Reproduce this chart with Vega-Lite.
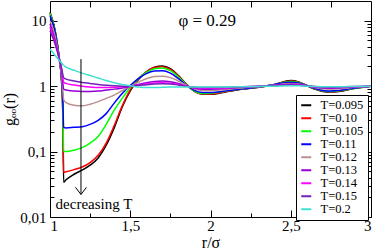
{
"$schema":"https://vega.github.io/schema/vega-lite/v6.json",
"width":321,"height":216,
"autosize":"none",
"padding":{"left":50,"top":1,"right":3,"bottom":34},
"config":{
 "view":{"stroke":"black","strokeWidth":1},
 "font":"Liberation Serif",
 "axis":{"labelFont":"Liberation Serif","labelFontSize":15,"labelColor":"black","tickColor":"black","tickWidth":1,"domain":false,"grid":false,"titleFont":"Liberation Serif","titleFontSize":16,"titleFontWeight":"normal","titleColor":"black"},
 "legend":{"labelFont":"Liberation Serif","rowPadding":0,"labelFontSize":12.5,"symbolSize":100},
 "text":{"font":"Liberation Serif"}
},
"resolve":{"axis":{"x":"independent","y":"independent"}},
"layer":[
{
"data":{"values":[
{"r":1.0,"T":"T=0.095","g":13.5},{"r":1.03,"T":"T=0.095","g":7.5},{"r":1.06,"T":"T=0.095","g":2.4},{"r":1.07,"T":"T=0.095","g":1.4},{"r":1.08,"T":"T=0.095","g":0.35},{"r":1.085,"T":"T=0.095","g":0.034},{"r":1.1,"T":"T=0.095","g":0.037},{"r":1.15,"T":"T=0.095","g":0.045},{"r":1.2,"T":"T=0.095","g":0.052},{"r":1.25,"T":"T=0.095","g":0.062},{"r":1.3,"T":"T=0.095","g":0.08},{"r":1.35,"T":"T=0.095","g":0.125},{"r":1.4,"T":"T=0.095","g":0.23},{"r":1.45,"T":"T=0.095","g":0.48},{"r":1.5,"T":"T=0.095","g":0.85},{"r":1.55,"T":"T=0.095","g":1.25},{"r":1.6,"T":"T=0.095","g":1.65},{"r":1.65,"T":"T=0.095","g":1.95},{"r":1.7,"T":"T=0.095","g":2.03},{"r":1.75,"T":"T=0.095","g":1.85},{"r":1.8,"T":"T=0.095","g":1.45},{"r":1.85,"T":"T=0.095","g":1.07},{"r":1.9,"T":"T=0.095","g":0.83},{"r":1.95,"T":"T=0.095","g":0.75},{"r":2.0,"T":"T=0.095","g":0.75},{"r":2.1,"T":"T=0.095","g":0.82},{"r":2.2,"T":"T=0.095","g":0.9},{"r":2.3,"T":"T=0.095","g":0.96},{"r":2.4,"T":"T=0.095","g":1.06},{"r":2.5,"T":"T=0.095","g":1.22},{"r":2.55,"T":"T=0.095","g":1.16},{"r":2.6,"T":"T=0.095","g":1.02},{"r":2.65,"T":"T=0.095","g":0.9},{"r":2.7,"T":"T=0.095","g":0.83},{"r":2.75,"T":"T=0.095","g":0.81},{"r":2.8,"T":"T=0.095","g":0.83},{"r":2.9,"T":"T=0.095","g":0.93},{"r":3.0,"T":"T=0.095","g":1.0},
{"r":1.0,"T":"T=0.10","g":13},{"r":1.03,"T":"T=0.10","g":7.3},{"r":1.06,"T":"T=0.10","g":2.4},{"r":1.07,"T":"T=0.10","g":1.45},{"r":1.08,"T":"T=0.10","g":0.4},{"r":1.085,"T":"T=0.10","g":0.048},{"r":1.1,"T":"T=0.10","g":0.049},{"r":1.15,"T":"T=0.10","g":0.053},{"r":1.2,"T":"T=0.10","g":0.058},{"r":1.25,"T":"T=0.10","g":0.068},{"r":1.3,"T":"T=0.10","g":0.088},{"r":1.35,"T":"T=0.10","g":0.135},{"r":1.4,"T":"T=0.10","g":0.25},{"r":1.45,"T":"T=0.10","g":0.5},{"r":1.5,"T":"T=0.10","g":0.88},{"r":1.55,"T":"T=0.10","g":1.28},{"r":1.6,"T":"T=0.10","g":1.65},{"r":1.65,"T":"T=0.10","g":1.93},{"r":1.7,"T":"T=0.10","g":1.98},{"r":1.75,"T":"T=0.10","g":1.8},{"r":1.8,"T":"T=0.10","g":1.42},{"r":1.85,"T":"T=0.10","g":1.06},{"r":1.9,"T":"T=0.10","g":0.83},{"r":1.95,"T":"T=0.10","g":0.76},{"r":2.0,"T":"T=0.10","g":0.76},{"r":2.1,"T":"T=0.10","g":0.83},{"r":2.2,"T":"T=0.10","g":0.9},{"r":2.3,"T":"T=0.10","g":0.96},{"r":2.4,"T":"T=0.10","g":1.06},{"r":2.5,"T":"T=0.10","g":1.2},{"r":2.55,"T":"T=0.10","g":1.15},{"r":2.6,"T":"T=0.10","g":1.02},{"r":2.65,"T":"T=0.10","g":0.9},{"r":2.7,"T":"T=0.10","g":0.84},{"r":2.75,"T":"T=0.10","g":0.82},{"r":2.8,"T":"T=0.10","g":0.84},{"r":2.9,"T":"T=0.10","g":0.93},{"r":3.0,"T":"T=0.10","g":1.0},
{"r":1.0,"T":"T=0.105","g":13},{"r":1.03,"T":"T=0.105","g":7.2},{"r":1.06,"T":"T=0.105","g":2.4},{"r":1.07,"T":"T=0.105","g":1.5},{"r":1.08,"T":"T=0.105","g":0.5},{"r":1.085,"T":"T=0.105","g":0.1},{"r":1.1,"T":"T=0.105","g":0.1},{"r":1.15,"T":"T=0.105","g":0.105},{"r":1.2,"T":"T=0.105","g":0.115},{"r":1.25,"T":"T=0.105","g":0.135},{"r":1.3,"T":"T=0.105","g":0.17},{"r":1.35,"T":"T=0.105","g":0.26},{"r":1.4,"T":"T=0.105","g":0.43},{"r":1.45,"T":"T=0.105","g":0.65},{"r":1.5,"T":"T=0.105","g":0.95},{"r":1.55,"T":"T=0.105","g":1.3},{"r":1.6,"T":"T=0.105","g":1.62},{"r":1.65,"T":"T=0.105","g":1.85},{"r":1.7,"T":"T=0.105","g":1.9},{"r":1.75,"T":"T=0.105","g":1.72},{"r":1.8,"T":"T=0.105","g":1.38},{"r":1.85,"T":"T=0.105","g":1.05},{"r":1.9,"T":"T=0.105","g":0.84},{"r":1.95,"T":"T=0.105","g":0.77},{"r":2.0,"T":"T=0.105","g":0.78},{"r":2.1,"T":"T=0.105","g":0.84},{"r":2.2,"T":"T=0.105","g":0.91},{"r":2.3,"T":"T=0.105","g":0.97},{"r":2.4,"T":"T=0.105","g":1.06},{"r":2.5,"T":"T=0.105","g":1.18},{"r":2.55,"T":"T=0.105","g":1.14},{"r":2.6,"T":"T=0.105","g":1.02},{"r":2.65,"T":"T=0.105","g":0.91},{"r":2.7,"T":"T=0.105","g":0.85},{"r":2.75,"T":"T=0.105","g":0.83},{"r":2.8,"T":"T=0.105","g":0.85},{"r":2.9,"T":"T=0.105","g":0.93},{"r":3.0,"T":"T=0.105","g":1.0},
{"r":1.0,"T":"T=0.11","g":12},{"r":1.03,"T":"T=0.11","g":7},{"r":1.06,"T":"T=0.11","g":2.4},{"r":1.07,"T":"T=0.11","g":1.5},{"r":1.08,"T":"T=0.11","g":0.6},{"r":1.085,"T":"T=0.11","g":0.235},{"r":1.1,"T":"T=0.11","g":0.23},{"r":1.15,"T":"T=0.11","g":0.235},{"r":1.2,"T":"T=0.11","g":0.24},{"r":1.25,"T":"T=0.11","g":0.26},{"r":1.3,"T":"T=0.11","g":0.3},{"r":1.35,"T":"T=0.11","g":0.38},{"r":1.4,"T":"T=0.11","g":0.55},{"r":1.45,"T":"T=0.11","g":0.77},{"r":1.5,"T":"T=0.11","g":1.02},{"r":1.55,"T":"T=0.11","g":1.3},{"r":1.6,"T":"T=0.11","g":1.55},{"r":1.65,"T":"T=0.11","g":1.7},{"r":1.7,"T":"T=0.11","g":1.72},{"r":1.75,"T":"T=0.11","g":1.58},{"r":1.8,"T":"T=0.11","g":1.3},{"r":1.85,"T":"T=0.11","g":1.04},{"r":1.9,"T":"T=0.11","g":0.86},{"r":1.95,"T":"T=0.11","g":0.8},{"r":2.0,"T":"T=0.11","g":0.8},{"r":2.1,"T":"T=0.11","g":0.85},{"r":2.2,"T":"T=0.11","g":0.91},{"r":2.3,"T":"T=0.11","g":0.97},{"r":2.4,"T":"T=0.11","g":1.06},{"r":2.5,"T":"T=0.11","g":1.15},{"r":2.55,"T":"T=0.11","g":1.12},{"r":2.6,"T":"T=0.11","g":1.02},{"r":2.65,"T":"T=0.11","g":0.92},{"r":2.7,"T":"T=0.11","g":0.86},{"r":2.75,"T":"T=0.11","g":0.84},{"r":2.8,"T":"T=0.11","g":0.86},{"r":2.9,"T":"T=0.11","g":0.94},{"r":3.0,"T":"T=0.11","g":1.0},
{"r":1.0,"T":"T=0.12","g":10},{"r":1.03,"T":"T=0.12","g":6},{"r":1.06,"T":"T=0.12","g":2.4},{"r":1.07,"T":"T=0.12","g":1.6},{"r":1.08,"T":"T=0.12","g":0.85},{"r":1.085,"T":"T=0.12","g":0.62},{"r":1.1,"T":"T=0.12","g":0.56},{"r":1.15,"T":"T=0.12","g":0.51},{"r":1.2,"T":"T=0.12","g":0.5},{"r":1.25,"T":"T=0.12","g":0.53},{"r":1.3,"T":"T=0.12","g":0.58},{"r":1.35,"T":"T=0.12","g":0.65},{"r":1.4,"T":"T=0.12","g":0.73},{"r":1.45,"T":"T=0.12","g":0.85},{"r":1.5,"T":"T=0.12","g":0.99},{"r":1.55,"T":"T=0.12","g":1.15},{"r":1.6,"T":"T=0.12","g":1.3},{"r":1.65,"T":"T=0.12","g":1.4},{"r":1.7,"T":"T=0.12","g":1.42},{"r":1.75,"T":"T=0.12","g":1.35},{"r":1.8,"T":"T=0.12","g":1.2},{"r":1.85,"T":"T=0.12","g":1.03},{"r":1.9,"T":"T=0.12","g":0.91},{"r":1.95,"T":"T=0.12","g":0.86},{"r":2.0,"T":"T=0.12","g":0.86},{"r":2.1,"T":"T=0.12","g":0.89},{"r":2.2,"T":"T=0.12","g":0.94},{"r":2.3,"T":"T=0.12","g":0.98},{"r":2.4,"T":"T=0.12","g":1.04},{"r":2.5,"T":"T=0.12","g":1.1},{"r":2.55,"T":"T=0.12","g":1.08},{"r":2.6,"T":"T=0.12","g":1.02},{"r":2.65,"T":"T=0.12","g":0.95},{"r":2.7,"T":"T=0.12","g":0.91},{"r":2.75,"T":"T=0.12","g":0.9},{"r":2.8,"T":"T=0.12","g":0.91},{"r":2.9,"T":"T=0.12","g":0.96},{"r":3.0,"T":"T=0.12","g":1.0},
{"r":1.0,"T":"T=0.13","g":9},{"r":1.03,"T":"T=0.13","g":5.2},{"r":1.06,"T":"T=0.13","g":2.5},{"r":1.07,"T":"T=0.13","g":1.9},{"r":1.08,"T":"T=0.13","g":1.1},{"r":1.085,"T":"T=0.13","g":0.9},{"r":1.1,"T":"T=0.13","g":0.87},{"r":1.15,"T":"T=0.13","g":0.84},{"r":1.2,"T":"T=0.13","g":0.83},{"r":1.25,"T":"T=0.13","g":0.83},{"r":1.3,"T":"T=0.13","g":0.84},{"r":1.35,"T":"T=0.13","g":0.87},{"r":1.4,"T":"T=0.13","g":0.9},{"r":1.45,"T":"T=0.13","g":0.94},{"r":1.5,"T":"T=0.13","g":0.99},{"r":1.55,"T":"T=0.13","g":1.06},{"r":1.6,"T":"T=0.13","g":1.13},{"r":1.65,"T":"T=0.13","g":1.18},{"r":1.7,"T":"T=0.13","g":1.2},{"r":1.75,"T":"T=0.13","g":1.17},{"r":1.8,"T":"T=0.13","g":1.1},{"r":1.85,"T":"T=0.13","g":1.0},{"r":1.9,"T":"T=0.13","g":0.93},{"r":1.95,"T":"T=0.13","g":0.9},{"r":2.0,"T":"T=0.13","g":0.9},{"r":2.1,"T":"T=0.13","g":0.92},{"r":2.2,"T":"T=0.13","g":0.96},{"r":2.3,"T":"T=0.13","g":0.99},{"r":2.4,"T":"T=0.13","g":1.03},{"r":2.5,"T":"T=0.13","g":1.07},{"r":2.55,"T":"T=0.13","g":1.06},{"r":2.6,"T":"T=0.13","g":1.02},{"r":2.65,"T":"T=0.13","g":0.97},{"r":2.7,"T":"T=0.13","g":0.94},{"r":2.75,"T":"T=0.13","g":0.93},{"r":2.8,"T":"T=0.13","g":0.94},{"r":2.9,"T":"T=0.13","g":0.97},{"r":3.0,"T":"T=0.13","g":1.0},
{"r":1.0,"T":"T=0.14","g":8},{"r":1.03,"T":"T=0.14","g":4.8},{"r":1.06,"T":"T=0.14","g":2.5},{"r":1.07,"T":"T=0.14","g":1.9},{"r":1.08,"T":"T=0.14","g":1.3},{"r":1.085,"T":"T=0.14","g":1.15},{"r":1.1,"T":"T=0.14","g":1.1},{"r":1.15,"T":"T=0.14","g":1.04},{"r":1.2,"T":"T=0.14","g":1.0},{"r":1.25,"T":"T=0.14","g":0.97},{"r":1.3,"T":"T=0.14","g":0.95},{"r":1.35,"T":"T=0.14","g":0.95},{"r":1.4,"T":"T=0.14","g":0.96},{"r":1.45,"T":"T=0.14","g":0.98},{"r":1.5,"T":"T=0.14","g":1.0},{"r":1.55,"T":"T=0.14","g":1.04},{"r":1.6,"T":"T=0.14","g":1.08},{"r":1.65,"T":"T=0.14","g":1.12},{"r":1.7,"T":"T=0.14","g":1.13},{"r":1.75,"T":"T=0.14","g":1.11},{"r":1.8,"T":"T=0.14","g":1.06},{"r":1.85,"T":"T=0.14","g":1.0},{"r":1.9,"T":"T=0.14","g":0.95},{"r":1.95,"T":"T=0.14","g":0.93},{"r":2.0,"T":"T=0.14","g":0.93},{"r":2.1,"T":"T=0.14","g":0.94},{"r":2.2,"T":"T=0.14","g":0.97},{"r":2.3,"T":"T=0.14","g":1.0},{"r":2.4,"T":"T=0.14","g":1.02},{"r":2.5,"T":"T=0.14","g":1.05},{"r":2.55,"T":"T=0.14","g":1.04},{"r":2.6,"T":"T=0.14","g":1.01},{"r":2.65,"T":"T=0.14","g":0.98},{"r":2.7,"T":"T=0.14","g":0.96},{"r":2.75,"T":"T=0.14","g":0.95},{"r":2.8,"T":"T=0.14","g":0.96},{"r":2.9,"T":"T=0.14","g":0.98},{"r":3.0,"T":"T=0.14","g":1.0},
{"r":1.0,"T":"T=0.15","g":7},{"r":1.03,"T":"T=0.15","g":4.5},{"r":1.06,"T":"T=0.15","g":2.5},{"r":1.07,"T":"T=0.15","g":2.0},{"r":1.08,"T":"T=0.15","g":1.5},{"r":1.085,"T":"T=0.15","g":1.35},{"r":1.1,"T":"T=0.15","g":1.28},{"r":1.15,"T":"T=0.15","g":1.2},{"r":1.2,"T":"T=0.15","g":1.14},{"r":1.25,"T":"T=0.15","g":1.1},{"r":1.3,"T":"T=0.15","g":1.06},{"r":1.35,"T":"T=0.15","g":1.03},{"r":1.4,"T":"T=0.15","g":1.01},{"r":1.45,"T":"T=0.15","g":1.0},{"r":1.5,"T":"T=0.15","g":1.0},{"r":1.55,"T":"T=0.15","g":1.02},{"r":1.6,"T":"T=0.15","g":1.05},{"r":1.65,"T":"T=0.15","g":1.08},{"r":1.7,"T":"T=0.15","g":1.09},{"r":1.75,"T":"T=0.15","g":1.08},{"r":1.8,"T":"T=0.15","g":1.04},{"r":1.85,"T":"T=0.15","g":1.0},{"r":1.9,"T":"T=0.15","g":0.97},{"r":1.95,"T":"T=0.15","g":0.95},{"r":2.0,"T":"T=0.15","g":0.95},{"r":2.1,"T":"T=0.15","g":0.96},{"r":2.2,"T":"T=0.15","g":0.98},{"r":2.3,"T":"T=0.15","g":1.0},{"r":2.4,"T":"T=0.15","g":1.02},{"r":2.5,"T":"T=0.15","g":1.04},{"r":2.55,"T":"T=0.15","g":1.03},{"r":2.6,"T":"T=0.15","g":1.01},{"r":2.65,"T":"T=0.15","g":0.99},{"r":2.7,"T":"T=0.15","g":0.97},{"r":2.75,"T":"T=0.15","g":0.96},{"r":2.8,"T":"T=0.15","g":0.97},{"r":2.9,"T":"T=0.15","g":0.99},{"r":3.0,"T":"T=0.15","g":1.0},
{"r":1.0,"T":"T=0.2","g":3.7},{"r":1.03,"T":"T=0.2","g":3.0},{"r":1.06,"T":"T=0.2","g":2.45},{"r":1.07,"T":"T=0.2","g":2.3},{"r":1.08,"T":"T=0.2","g":2.15},{"r":1.085,"T":"T=0.2","g":2.08},{"r":1.1,"T":"T=0.2","g":1.95},{"r":1.15,"T":"T=0.2","g":1.75},{"r":1.2,"T":"T=0.2","g":1.58},{"r":1.25,"T":"T=0.2","g":1.45},{"r":1.3,"T":"T=0.2","g":1.33},{"r":1.35,"T":"T=0.2","g":1.22},{"r":1.4,"T":"T=0.2","g":1.13},{"r":1.45,"T":"T=0.2","g":1.06},{"r":1.5,"T":"T=0.2","g":1.01},{"r":1.55,"T":"T=0.2","g":0.97},{"r":1.6,"T":"T=0.2","g":0.95},{"r":1.65,"T":"T=0.2","g":0.95},{"r":1.7,"T":"T=0.2","g":0.96},{"r":1.75,"T":"T=0.2","g":0.97},{"r":1.8,"T":"T=0.2","g":0.97},{"r":1.85,"T":"T=0.2","g":0.97},{"r":1.9,"T":"T=0.2","g":0.97},{"r":1.95,"T":"T=0.2","g":0.97},{"r":2.0,"T":"T=0.2","g":0.97},{"r":2.1,"T":"T=0.2","g":0.97},{"r":2.2,"T":"T=0.2","g":0.98},{"r":2.3,"T":"T=0.2","g":0.99},{"r":2.4,"T":"T=0.2","g":1.0},{"r":2.5,"T":"T=0.2","g":1.01},{"r":2.55,"T":"T=0.2","g":1.01},{"r":2.6,"T":"T=0.2","g":1.0},{"r":2.65,"T":"T=0.2","g":0.99},{"r":2.7,"T":"T=0.2","g":0.98},{"r":2.75,"T":"T=0.2","g":0.98},{"r":2.8,"T":"T=0.2","g":0.98},{"r":2.9,"T":"T=0.2","g":0.99},{"r":3.0,"T":"T=0.2","g":1.0}
]},
"mark":{"type":"line","strokeWidth":1.5,"interpolate":"monotone"},
"encoding":{
 "x":{"field":"r","type":"quantitative","scale":{"domain":[1,3],"nice":false,"zero":false},
      "axis":{"orient":"bottom","values":[1,1.5,2,2.5,3],"tickSize":-7,"labelPadding":8,"labelFont":"Liberation Serif","labelFontSize":15,"labelExpr":"replace(toString(datum.value),'.',',')","title":"r/σ","titleFont":"Liberation Serif","titlePadding":1}},
 "y":{"field":"g","type":"quantitative","scale":{"type":"log","domain":[0.01,20],"nice":false},
      "axis":{"orient":"left","values":[0.01,0.1,1,10],"tickSize":-7,"labelPadding":11,"labelFont":"Liberation Serif","labelFontSize":15,"labelExpr":"replace(toString(datum.value),'.',',')","title":"gₒₒ(r)","titleFont":"Liberation Serif","titlePadding":2}},
 "color":{"field":"T","type":"nominal",
   "scale":{"domain":["T=0.095","T=0.10","T=0.105","T=0.11","T=0.12","T=0.13","T=0.14","T=0.15","T=0.2"],
            "range":["#000000","#ff0000","#00ff00","#0000ff","#bc8f8f","#9400d3","#ff00ff","#7221bc","#40e0d0"]},
   "legend":{"orient":"none","legendX":246,"legendY":94,"title":null,"symbolType":"stroke","symbolSize":100,"symbolStrokeWidth":2,"labelFont":"Liberation Serif","labelFontSize":12.5,"labelColor":"black","rowPadding":0,"strokeColor":"black","fillColor":"white","padding":4,"labelOffset":8}}
}
},
{
"data":{"values":[{"r":1.193,"g":2.59,"g2":0.0221}]},
"mark":{"type":"rule","color":"black","strokeWidth":1},
"encoding":{
 "x":{"field":"r","type":"quantitative","scale":{"domain":[1,3],"nice":false,"zero":false},
      "axis":{"orient":"bottom","values":[1.25,1.75,2.25,2.75],"tickSize":-4,"labels":false,"title":null}},
 "y":{"field":"g","type":"quantitative","scale":{"type":"log","domain":[0.01,20],"nice":false},
      "axis":{"orient":"left","values":[0.02,0.03,0.04,0.05,0.06,0.07,0.08,0.09,0.2,0.3,0.4,0.5,0.6,0.7,0.8,0.9,2,3,4,5,6,7,8,9],"tickSize":-4,"labels":false,"title":null}},
 "y2":{"field":"g2"}
}
},
{
"data":{"values":[{"r":1.193,"g":0.0221}]},
"mark":{"type":"point","shape":"M-1,-1.3L0,0L1,-1.3","size":121,"filled":false,"stroke":"black","strokeWidth":1,"opacity":1},
"encoding":{
 "x":{"field":"r","type":"quantitative","scale":{"domain":[1,3],"nice":false,"zero":false},
      "axis":{"orient":"top","values":[1.25,1.5,1.75,2,2.25,2.5,2.75],"tickSize":-6,"labels":false,"title":null}},
 "y":{"field":"g","type":"quantitative","scale":{"type":"log","domain":[0.01,20],"nice":false},
      "axis":{"orient":"right","values":[0.01,0.1,1,10],"tickSize":-7,"labels":false,"title":null}}
}
},
{
"data":{"values":[{"r":1.274,"g":0.0131,"label":"decreasing T"}]},
"mark":{"type":"text","font":"Liberation Serif","fontSize":15,"baseline":"alphabetic","align":"center","color":"black"},
"encoding":{
 "x":{"field":"r","type":"quantitative","scale":{"domain":[1,3],"nice":false,"zero":false},"axis":null},
 "y":{"field":"g","type":"quantitative","scale":{"type":"log","domain":[0.01,20],"nice":false},
      "axis":{"orient":"right","values":[0.02,0.03,0.04,0.05,0.06,0.07,0.08,0.09,0.2,0.3,0.4,0.5,0.6,0.7,0.8,0.9,2,3,4,5,6,7,8,9],"tickSize":-4,"labels":false,"title":null}},
 "text":{"field":"label"}
}
},
{
"data":{"values":[{"r":1.98,"g":9.9,"label":"φ = 0.29"}]},
"mark":{"type":"text","font":"Liberation Serif","fontSize":17,"baseline":"middle","align":"center","color":"black"},
"encoding":{
 "x":{"field":"r","type":"quantitative","scale":{"domain":[1,3],"nice":false,"zero":false},"axis":null},
 "y":{"field":"g","type":"quantitative","scale":{"type":"log","domain":[0.01,20],"nice":false},"axis":null},
 "text":{"field":"label"}
}
}
]
}
